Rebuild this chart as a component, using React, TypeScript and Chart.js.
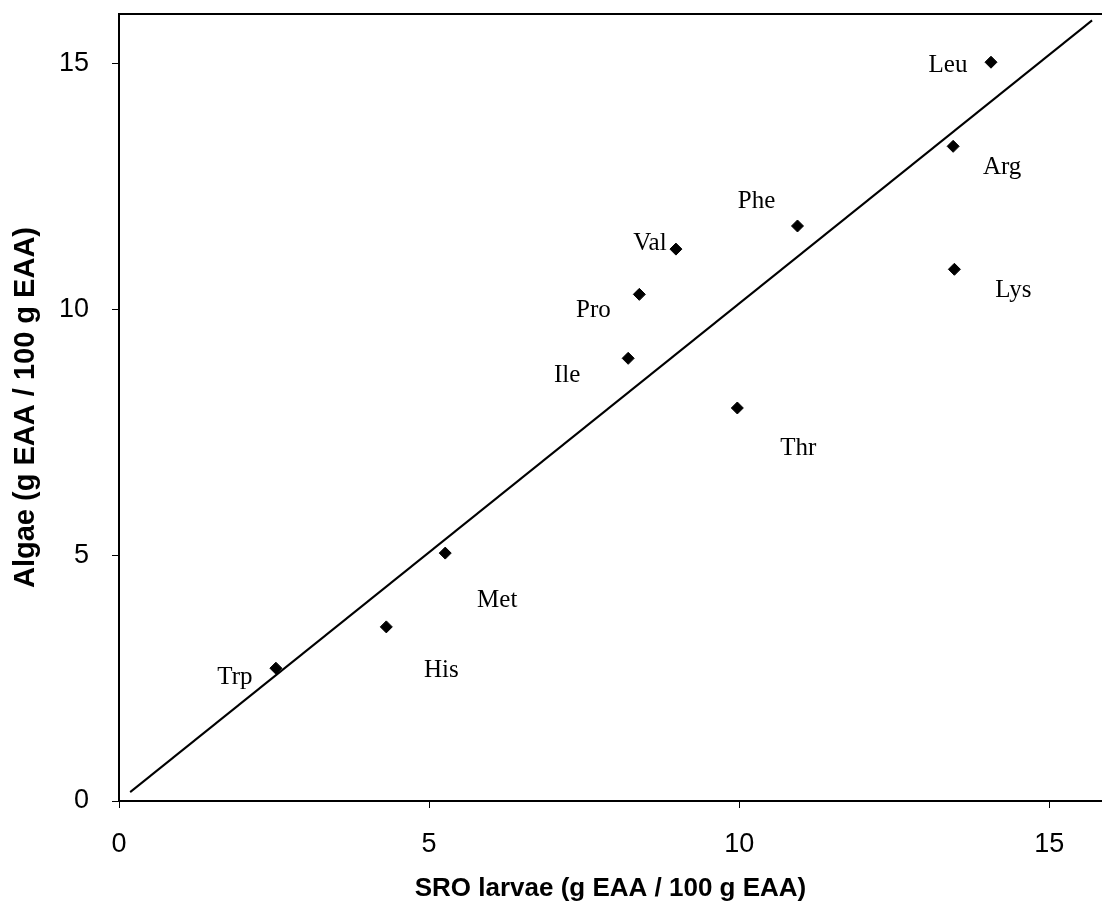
import React, { useEffect, useRef } from "react";
import { Chart, registerables } from "chart.js";

Chart.register(...registerables);

// Amino acids (labels), SRO larvae (x) vs Algae (y), g EAA / 100 g EAA
const aminoAcids = ["Trp", "His", "Met", "Ile", "Pro", "Val", "Thr", "Phe", "Arg", "Lys", "Leu"];
const sroLarvae = [2.53, 4.31, 5.26, 8.21, 8.39, 8.98, 9.97, 10.94, 13.45, 13.47, 14.06];
const algae = [2.7, 3.54, 5.04, 9.0, 10.3, 11.22, 7.99, 11.69, 13.31, 10.81, 15.02];

// Regression line end points
const lineX = [0.18, 15.69];
const lineY = [0.18, 15.87];

// Axis tick values
const xTicks = [0, 5, 10, 15];
const yTicks = [0, 5, 10, 15];

// Label placement offsets (pixels) relative to each marker
const labelOffsets: [number, number][] = [
  [-41, 9], [55, 44], [52, 47], [-61, 17], [-46, 16], [-26, -6],
  [61, 40], [-41, -25], [49, 21], [59, 21], [-43, 3],
];

const labelPlugin = {
  id: "pointLabels",
  afterDatasetsDraw(chart: any) {
    const ctx = chart.ctx;
    const meta = chart.getDatasetMeta(1);
    ctx.save();
    ctx.font = '25px "Liberation Serif", "Times New Roman", serif';
    ctx.fillStyle = "#000";
    ctx.textAlign = "center";
    ctx.textBaseline = "middle";
    meta.data.forEach((el: any, i: number) => {
      const [dx, dy] = labelOffsets[i];
      ctx.fillText(aminoAcids[i], el.x + dx, el.y + dy);
    });
    ctx.restore();
  },
};

const framePlugin = {
  id: "frameTop",
  afterDraw(chart: any) {
    const { ctx, chartArea } = chart;
    ctx.save();
    ctx.strokeStyle = "#000";
    ctx.lineWidth = 2;
    ctx.beginPath();
    ctx.moveTo(chartArea.left, chartArea.top);
    ctx.lineTo(chartArea.right, chartArea.top);
    ctx.stroke();
    ctx.restore();
  },
};

export default function App() {
  const ref = useRef<HTMLCanvasElement | null>(null);
  useEffect(() => {
    if (!ref.current) return;
    const tickFont = { family: '"Liberation Sans", Arial, sans-serif', size: 27 };
    const chart = new Chart(ref.current, {
      type: "scatter",
      data: {
        datasets: [
          {
            type: "line",
            data: lineX.map((x, i) => ({ x, y: lineY[i] })),
            borderColor: "#000",
            borderWidth: 2,
            pointRadius: 0,
            fill: false,
          } as any,
          {
            data: sroLarvae.map((x, i) => ({ x, y: algae[i] })),
            pointStyle: "rectRot",
            pointRadius: 6,
            backgroundColor: "#000",
            borderColor: "#000",
            borderWidth: 1,
          },
        ],
      },
      options: {
        animation: false,
        responsive: false,
        maintainAspectRatio: false,
        layout: { autoPadding: false, padding: { top: 14, right: 0, bottom: 0, left: 0 } },
        plugins: { legend: { display: false }, tooltip: { enabled: false } },
        scales: {
          x: {
            type: "linear",
            min: 0,
            max: 15.85,
            afterFit: (s: any) => {
              s.height = 108;
              s.paddingLeft = 0;
              s.paddingRight = 0;
            },
            afterBuildTicks: (s: any) => { s.ticks = xTicks.map((v) => ({ value: v })); },
            ticks: { font: tickFont, color: "#000", padding: 20, includeBounds: false },
            grid: { display: true, drawOnChartArea: false, drawTicks: true, tickLength: 7, color: "#000", lineWidth: 1 },
            border: { display: true, color: "#000", width: 2 },
            title: {
              display: true,
              text: "SRO larvae (g EAA / 100 g EAA)",
              color: "#000",
              font: { family: '"Liberation Sans", Arial, sans-serif', size: 26, weight: "bold" },
              padding: { top: 0, bottom: 5 },
            },
          },
          y: {
            type: "linear",
            min: 0,
            max: 16,
            afterFit: (s: any) => {
              s.width = 119;
              s.paddingTop = 0;
              s.paddingBottom = 0;
            },
            afterBuildTicks: (s: any) => { s.ticks = yTicks.map((v) => ({ value: v })); },
            ticks: { font: tickFont, color: "#000", padding: 23, includeBounds: false },
            grid: { display: true, drawOnChartArea: false, drawTicks: true, tickLength: 7, color: "#000", lineWidth: 1 },
            border: { display: true, color: "#000", width: 2 },
            title: {
              display: true,
              text: "Algae (g EAA / 100 g EAA)",
              color: "#000",
              font: { family: '"Liberation Sans", Arial, sans-serif', size: 29, weight: "bold" },
              padding: { top: 9, bottom: 0 },
            },
          },
        },
      },
      plugins: [labelPlugin, framePlugin],
    });
    return () => chart.destroy();
  }, []);
  return (
    <div style={{ position: "absolute", left: 0, top: 0, width: 1102, height: 909, background: "#fff" }}>
      <canvas ref={ref} width={1102} height={909} style={{ display: "block", width: 1102, height: 909 }} />
    </div>
  );
}
